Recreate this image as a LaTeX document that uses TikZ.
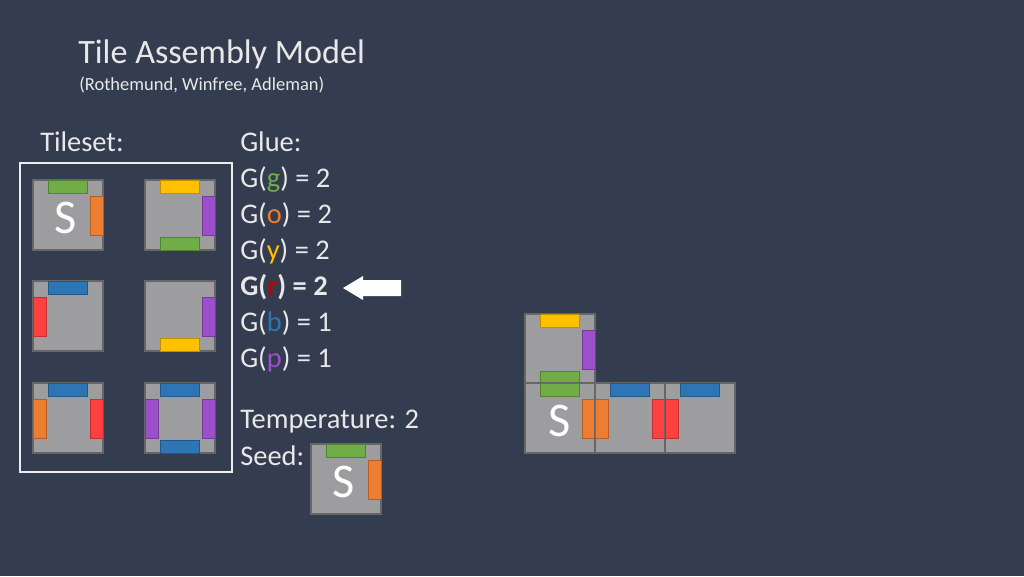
\documentclass[tikz,border=0pt]{standalone}
\usepackage{fontspec}
\setmainfont{Carlito}
\definecolor{bg}{HTML}{343D50}
\definecolor{tx}{HTML}{E8E8E8}
\definecolor{gg}{HTML}{70AD47}
\definecolor{go}{HTML}{ED7D31}
\definecolor{gy}{HTML}{FFC000}
\definecolor{gr}{HTML}{FF4040}
\definecolor{gb}{HTML}{2E75B6}
\definecolor{gp}{HTML}{9B4FCB}
\definecolor{tl}{HTML}{A6A6A6}
\begin{document}
\begin{tikzpicture}[x=0.703pt,y=-0.703pt,
  tile/.style={fill=tl,draw=gray!80!black,line width=0.8pt,fill opacity=0.92},
  glue/.style={draw=#1!75!black,fill=#1,line width=0.5pt},
  txt/.style={anchor=base west,text=tx,inner sep=0pt,font=\fontsize{20}{24}\selectfont},
  sl/.style={text=white,font=\fontsize{34}{34}\selectfont,inner sep=0pt}]
\fill[bg] (0,0) rectangle (1024,576);
% helpers: tile at (x,y) top-left
\newcommand{\tileat}[3]{\draw[tile] (#1,#2) rectangle ++(70,70);
  \coordinate (#3) at (#1+35,#2+35);}
\newcommand{\gtop}[3]{\draw[glue=#3] (#1+15,#2) rectangle ++(39,13);}
\newcommand{\gbot}[3]{\draw[glue=#3] (#1+15,#2+57) rectangle ++(39,13);}
\newcommand{\gleft}[3]{\draw[glue=#3] (#1,#2+16) rectangle ++(13,39);}
\newcommand{\gright}[3]{\draw[glue=#3] (#1+57,#2+16) rectangle ++(13,39);}
% title
\node[txt,font=\fontsize{24}{28}\selectfont] (title) at (78,63) {Tile Assembly Model};
\node[txt,font=\fontsize{13}{16}\selectfont] (sub) at (79,90) {(Rothemund, Winfree, Adleman)};
\node[txt] (ts) at (40,151) {Tileset:};
\draw[tx!80,line width=0.8pt] (20,163) rectangle (232,472);
% tileset
\tileat{33}{180}{t1}\gtop{33}{180}{gg}\gright{33}{180}{go}
\node[sl] (s1) at (66,218) {S};
\tileat{145}{180}{t2}\gtop{145}{180}{gy}\gright{145}{180}{gp}\gbot{145}{180}{gg}
\tileat{33}{281}{t3}\gtop{33}{281}{gb}\gleft{33}{281}{gr}
\tileat{145}{281}{t4}\gright{145}{281}{gp}\gbot{145}{281}{gy}
\tileat{33}{383}{t5}\gtop{33}{383}{gb}\gleft{33}{383}{go}\gright{33}{383}{gr}
\tileat{145}{383}{t6}\gtop{145}{383}{gb}\gleft{145}{383}{gp}\gright{145}{383}{gp}\gbot{145}{383}{gb}
% glue text
\node[txt] (gl) at (240,151) {Glue:};
\node[txt] (g1) at (240,187) {G(\textcolor{gg}{g}) = 2};
\node[txt] (g2) at (240,223) {G(\textcolor{go}{o}) = 2};
\node[txt] (g3) at (240,259) {G(\textcolor{gy}{y}) = 2};
\node[txt] (g4) at (240,295) {\bfseries G(\textcolor{red!75!black}{r}) = 2};
\node[txt] (g5) at (240,331) {G(\textcolor{gb}{b}) = 1};
\node[txt] (g6) at (240,367) {G(\textcolor{gp}{p}) = 1};
\node[txt] (temp) at (240,428) {Temperature: 2};
\node[txt] (seed) at (240,465) {Seed:};
% arrow
\fill[white] (343,288) -- (363,276) -- (363,280) -- (401,280) -- (401,296) -- (363,296) -- (363,300) -- cycle;
% seed tile
\tileat{311}{444}{sd}\gtop{311}{444}{gg}\gright{311}{444}{go}
\node[sl] (s2) at (344,482) {S};
% assembly
\tileat{525}{314}{a1}\gtop{525}{314}{gy}\gright{525}{314}{gp}\gbot{525}{314}{gg}
\tileat{525}{383}{a2}\gtop{525}{383}{gg}\gright{525}{383}{go}
\node[sl] (s3) at (560,421) {S};
\tileat{595}{383}{a3}\gtop{595}{383}{gb}\gleft{595}{383}{go}\gright{595}{383}{gr}
\tileat{665}{383}{a4}\gtop{665}{383}{gb}\gleft{665}{383}{gr}
\end{tikzpicture}
\end{document}
